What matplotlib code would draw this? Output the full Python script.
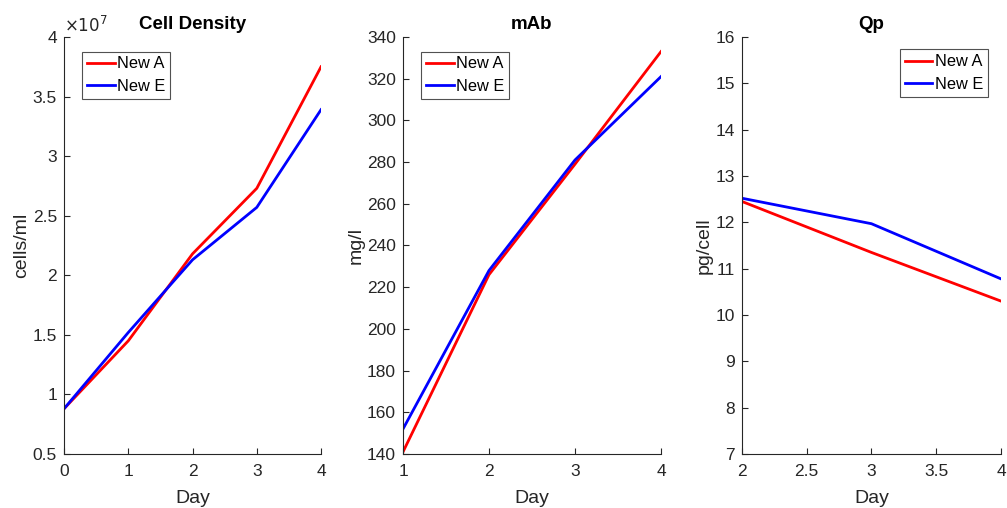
import matplotlib
matplotlib.use('Agg')
import matplotlib.pyplot as plt
from matplotlib.ticker import FuncFormatter

plt.rcParams['font.family'] = ['Liberation Sans', 'DejaVu Sans']

# data
days_cd = [0, 1, 2, 3, 4]
cd_new_a = [0.88, 1.45, 2.18, 2.73, 3.75]   # x1e7 cells/ml
cd_new_e = [0.88, 1.52, 2.13, 2.57, 3.39]

days_mab = [1, 2, 3, 4]
mab_new_a = [141, 226, 279, 333]
mab_new_e = [152, 228, 281, 321]

days_qp = [2, 3, 4]
qp_new_a = [12.45, 11.35, 10.30]
qp_new_e = [12.52, 11.97, 10.78]

labels = ['New A', 'New E']
colors = ['#ff0000', '#0000ff']
gray = '#262626'

fig = plt.figure(figsize=(10.07, 5.08), dpi=100)
boxes = [[0.0636, 0.1063, 0.2552, 0.8209],
         [0.4002, 0.1063, 0.2562, 0.8209],
         [0.7368, 0.1063, 0.2572, 0.8209]]

panels = [
    (days_cd, [cd_new_a, cd_new_e], 'Cell Density', 'cells/ml', (0, 4), (0.5, 4),
     [0, 1, 2, 3, 4], [0.5, 1, 1.5, 2, 2.5, 3, 3.5, 4], 'upper left'),
    (days_mab, [mab_new_a, mab_new_e], 'mAb', 'mg/l', (1, 4), (140, 340),
     [1, 2, 3, 4], list(range(140, 341, 20)), 'upper left'),
    (days_qp, [qp_new_a, qp_new_e], 'Qp', 'pg/cell', (2, 4), (7, 16),
     [2, 2.5, 3, 3.5, 4], list(range(7, 17)), 'upper right'),
]

fmt = FuncFormatter(lambda v, p: '%g' % v)
for box, (x, ys, title, ylab, xl, yl, xt, yt, loc) in zip(boxes, panels):
    ax = fig.add_axes(box)
    for y, lab, c in zip(ys, labels, colors):
        ax.plot(x, y, color=c, lw=2, label=lab)
    ax.set_xlim(*xl)
    ax.set_ylim(*yl)
    ax.set_xticks(xt)
    ax.set_yticks(yt)
    ax.xaxis.set_major_formatter(fmt)
    ax.yaxis.set_major_formatter(fmt)
    for s in ['top', 'right']:
        ax.spines[s].set_visible(False)
    for s in ['left', 'bottom']:
        ax.spines[s].set_color(gray)
        ax.spines[s].set_linewidth(0.8)
    ax.tick_params(direction='in', length=4, width=0.8, colors=gray, labelsize=12.5)
    ax.tick_params(axis='x', pad=7)
    ax.tick_params(axis='y', pad=5)
    ax.set_title(title, fontsize=13.5, fontweight='bold', pad=6)
    ax.set_xlabel('Day', fontsize=14, color=gray, labelpad=8)
    ax.set_ylabel(ylab, fontsize=14, color=gray, labelpad=2)
    if loc == 'upper left':
        anchor = (0.07, 0.965)
    else:
        anchor = (0.95, 0.97)
    leg = ax.legend(loc=loc, bbox_to_anchor=anchor, fontsize=11.75, frameon=True,
                    fancybox=False, handlelength=1.7, handletextpad=0.15,
                    borderpad=0.3, labelspacing=0.45, borderaxespad=0)
    leg.get_frame().set_edgecolor(gray)
    leg.get_frame().set_linewidth(0.8)
    if title == 'Cell Density':
        ax.text(0.0, 1.005, r'$\times10^{7}$', transform=ax.transAxes,
                fontsize=12, color=gray, ha='left', va='bottom')

fig.savefig('out.png', dpi=100)
